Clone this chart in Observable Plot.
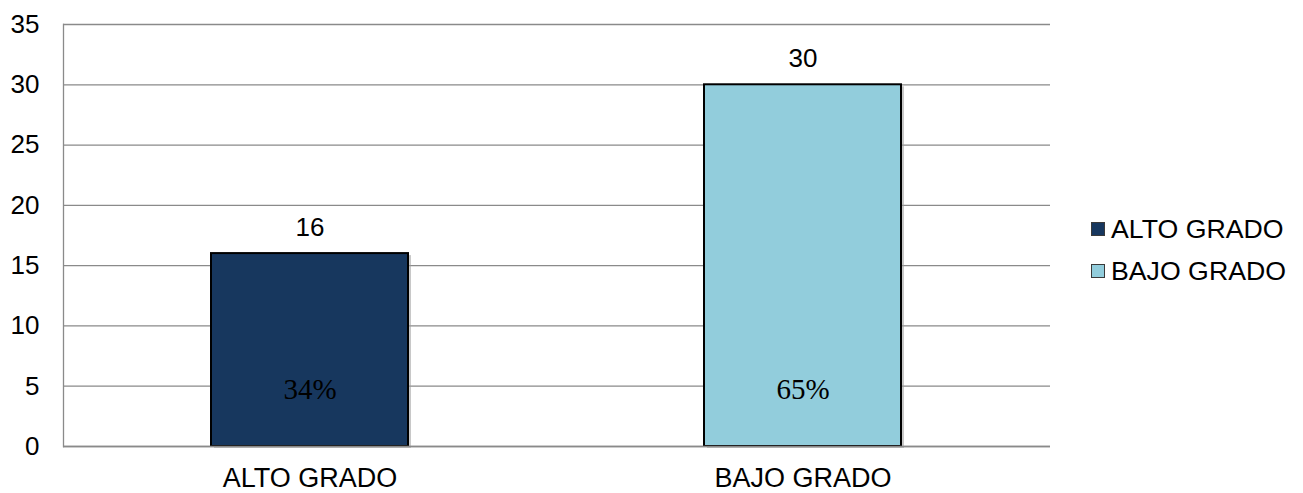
<!DOCTYPE html>
<html>
<head>
<meta charset="utf-8">
<script src="https://cdn.jsdelivr.net/npm/d3@7"></script>
<script src="https://cdn.jsdelivr.net/npm/@observablehq/plot@0.6"></script>
<style>
  body { margin: 0; background: #fff; }
  #chart { position: relative; width: 1303px; height: 493px; font-family: "Liberation Sans", Arial, sans-serif; }
  #chart svg { display: block; }
  .legend { position: absolute; left: 1091px; top: 208px; font-size: 26.7px; color: #000; }
  .legend .row { display: flex; align-items: center; height: 42px; }
  .legend .sw { width: 12px; height: 12px; border: 1px solid #3a3a3a; margin-right: 6px; }
</style>
</head>
<body>
<div id="chart"></div>
<script>
// Tumour grade counts and their share of the total
const categories = ["ALTO GRADO", "BAJO GRADO"];
const counts = [16, 30];
const percents = ["34%", "65%"];
const colors = ["#17375E", "#92CDDC"];
const yTicks = [0, 5, 10, 15, 20, 25, 30, 35];

const data = categories.map((c, i) => ({category: c, count: counts[i], percent: percents[i]}));

const chart = Plot.plot({
  width: 1303,
  height: 493,
  marginLeft: 63,
  marginRight: 253,
  marginTop: 24,
  marginBottom: 47,
  style: {fontFamily: "'Liberation Sans', Arial, sans-serif", background: "#fff", color: "#000"},
  x: {domain: categories, paddingInner: 0.6, paddingOuter: 0.3, label: null},
  y: {domain: [0, 35], label: null},
  color: {domain: categories, range: colors},
  marks: [
    Plot.gridY(yTicks, {stroke: "#8a8a8a", strokeOpacity: 1, strokeWidth: 1.3}),
    Plot.frame({anchor: "left", stroke: "#8a8a8a", strokeWidth: 1.3}),
    Plot.axisY(yTicks, {tickSize: 0, tickPadding: 24, fontSize: 26, tickFormat: d => String(d)}),
    Plot.axisX({tickSize: 0, tickPadding: 21, fontSize: 27}),
    // soft shadow under each bar
    Plot.barY(data, {x: "category", y: "count", fill: "#9a9a9a", fillOpacity: 0.55, dx: 3, dy: 2}),
    Plot.barY(data, {x: "category", y: "count", fill: "category", stroke: "#000", strokeWidth: 2}),
    Plot.ruleY([0], {stroke: "#8a8a8a", strokeWidth: 1.3}),
    Plot.text(data, {x: "category", y: "count", text: d => String(d.count), dy: -26, fontSize: 26, fill: "#000"}),
    Plot.text(data, {x: "category", frameAnchor: "bottom", text: "percent", dy: -48, fontSize: 29,
      fontFamily: "'Liberation Serif', 'DejaVu Serif', serif", fill: "#000"})
  ]
});

const root = document.getElementById("chart");
root.appendChild(chart);

const legend = document.createElement("div");
legend.className = "legend";
categories.forEach((c, i) => {
  const row = document.createElement("div");
  row.className = "row";
  const sw = document.createElement("div");
  sw.className = "sw";
  sw.style.background = colors[i];
  const label = document.createElement("span");
  label.textContent = c;
  row.appendChild(sw);
  row.appendChild(label);
  legend.appendChild(row);
});
root.appendChild(legend);
</script>
</body>
</html>
